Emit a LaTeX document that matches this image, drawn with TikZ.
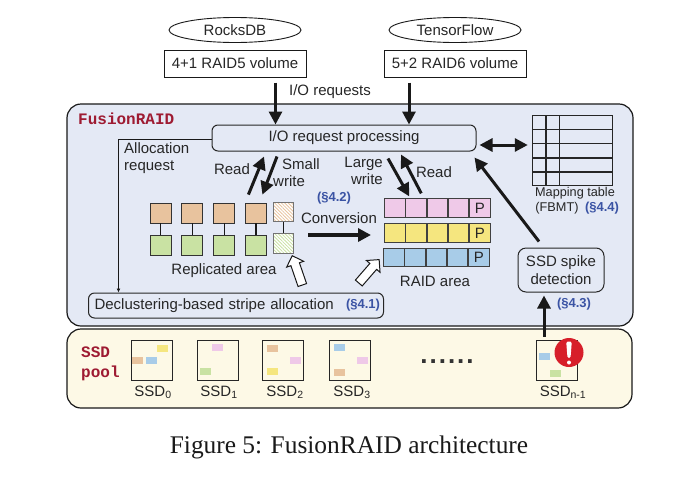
\documentclass[tikz,border=0pt]{standalone}
\usepackage{fontspec}
\setmainfont{Liberation Sans}
\newfontfamily\captionfont{Liberation Serif}
\newfontfamily\codefont{Liberation Mono}
\usetikzlibrary{
  arrows.meta,
  matrix,
  patterns.meta,
  positioning,
  shapes.arrows,
  shapes.geometric,
}
\definecolor{panelblue}{RGB}{228, 233, 245}
\definecolor{poolcream}{RGB}{253, 249, 230}
\definecolor{titlered}{RGB}{158, 27, 50}
\definecolor{sectionblue}{RGB}{58, 83, 164}
\definecolor{alertred}{RGB}{215, 31, 42}
\definecolor{blockorange}{RGB}{232, 195, 158}
\definecolor{blockgreen}{RGB}{201, 226, 163}
\definecolor{blockpink}{RGB}{239, 201, 232}
\definecolor{blockyellow}{RGB}{245, 230, 127}
\definecolor{blockblue}{RGB}{168, 204, 232}
\tikzset{
  textlabel/.style={font=\fontsize{15}{17}\selectfont, inner sep=0, text=black!85},
  smalllabel/.style={font=\fontsize{12.7}{15}\selectfont, inner sep=0, text=black!85},
  sectionref/.style={font=\fontsize{13}{15}\selectfont\bfseries, inner sep=0, text=sectionblue},
  areatitle/.style={font=\fontsize{16}{20}\selectfont\codefont\bfseries, inner sep=0, text=titlered, align=left},
  bigarrow/.style={-{Triangle[length=13,width=13]}, line width=3, black!90},
  roundbox/.style={draw=black!85, line width=1, rounded corners=6, inner sep=0, font=\fontsize{15}{18}\selectfont, text=black!85},
  volumebox/.style={draw=black!90, line width=1, fill=white, minimum width=142, minimum height=27, inner sep=0, font=\fontsize{15}{18}\selectfont, text=black!85},
  appbox/.style={draw=black!90, ellipse, line width=.9, fill=white, minimum width=132, minimum height=25, inner sep=0, font=\fontsize{15}{18}\selectfont, text=black!85},
  repcell/.style={draw=black!80, rectangle, line width=.8, minimum width=21, minimum height=20, inner sep=0},
  hatchcell/.style={draw=black!55, rectangle, line width=.7, minimum width=20.5, minimum height=19.5, inner sep=0, preaction={fill=white}},
  raidcell/.style={draw=black!75, rectangle, line width=.8, minimum width=20.5, minimum height=18.5, inner sep=0, font=\fontsize{15}{18}\selectfont, text=black!85},
  ssdbox/.style={draw=black!85, rectangle, line width=.9, minimum width=41, minimum height=40, inner sep=0},
  ssdblock/.style={rectangle, minimum width=11, minimum height=7, inner sep=0},
  hollowarrow/.style={draw=black!90, fill=white, single arrow, line width=1, inner sep=4, minimum height=31, single arrow head extend=4.5, single arrow tip angle=90},
}

\begin{document}
\begin{tikzpicture}[x=1pt, y=-1pt, node distance=0mm and 0mm]
        \useasboundingbox (0,0) rectangle (692,485);

        % panels
        \node[draw=black!90,line width=1.2,rounded corners=14,fill=panelblue,minimum width=566,minimum height=222,inner sep=0] (panel) at (350,215) {};
        \node[draw=black!90,line width=1.2,rounded corners=14,fill=poolcream,minimum width=565,minimum height=79,inner sep=0] (pool) at (349.5,368.5) {};
        \node[areatitle,anchor=west] (fusion) at (78,119) {FusionRAID};
        \node[areatitle,anchor=west] (poolname) at (81,364) {SSD\\pool};

        % applications and volumes
        \node[appbox] (rocks) at (235,30) {RocksDB};
        \node[appbox] (tensor) at (455,30) {TensorFlow};
        \node[volumebox] (vol5) at (235,63.5) {4+1 RAID5 volume};
        \node[volumebox] (vol6) at (455,63.5) {5+2 RAID6 volume};
        \node[textlabel] (iolabel) at (330,92) {I/O requests};

        % main boxes
        \node[roundbox,minimum width=264,minimum height=26] (iobox) at (344,138) {I/O request processing};
        \node[roundbox,minimum width=295,minimum height=25,anchor=west,text width=283,align=left] (decluster) at (88,305.5) {Declustering-based stripe allocation};
        \node[sectionref] (sec41) at (363,305) {(§4.1)};
        \node[roundbox,rounded corners=8,minimum width=86,minimum height=44,align=center] (spike) at (561,270) {SSD spike\\detection};
        \node[sectionref] (sec43) at (574,304) {(§4.3)};

        % mapping table
        \matrix (fbmt) [matrix of nodes, nodes in empty cells, inner sep=0, at={(572.5,150.5)},
            nodes={draw=black!85,line width=.7,rectangle,inner sep=0,minimum height=13.4},
            column 1/.style={nodes={minimum width=13}},
            column 2/.style={nodes={minimum width=13}},
            column 3/.style={nodes={minimum width=53}}] {
            & & \\
            & & \\
            & & \\
            & & \\
            & & \\
        };
        \node[smalllabel] (maplabel) at (575,193) {Mapping table};
        \node[smalllabel] (fbmtlabel) at (557,208) {(FBMT)};
        \node[sectionref] (sec44) at (602,208) {(§4.4)};

        % replicated area
        \node[repcell,fill=blockorange] (o0) at (160.5,213) {};
        \node[repcell,fill=blockorange,right=10pt of o0] (o1) {};
        \node[repcell,fill=blockorange,right=10pt of o1] (o2) {};
        \node[repcell,fill=blockorange,right=10pt of o2] (o3) {};
        \node[hatchcell,pattern={Lines[angle=-45,distance=2.4pt,line width=.8pt]},pattern color=blockorange] (o4) at (283.5,212) {};
        \node[repcell,fill=blockgreen] (g0) at (160.5,245) {};
        \node[repcell,fill=blockgreen,right=10pt of g0] (g1) {};
        \node[repcell,fill=blockgreen,right=10pt of g1] (g2) {};
        \node[repcell,fill=blockgreen,right=10pt of g2] (g3) {};
        \node[hatchcell,pattern={Lines[angle=-45,distance=2.4pt,line width=.8pt]},pattern color=blockgreen] (g4) at (283.5,243.5) {};
        \draw[black!90,line width=.9] (o0) -- (g0);
        \draw[black!90,line width=.9] (o1) -- (g1);
        \draw[black!90,line width=.9] (o2) -- (g2);
        \draw[black!90,line width=1.3] (o3) -- (g3);
        \draw[black!90,line width=.9] (o4) -- (g4);
        \node[textlabel] (replabel) at (224,271) {Replicated area};

        % RAID area
        \node[raidcell,fill=blockpink,anchor=west] (p0) at (384,208) {};
        \node[raidcell,fill=blockpink,right=of p0] (p1) {};
        \node[raidcell,fill=blockpink,right=of p1] (p2) {};
        \node[raidcell,fill=blockpink,right=of p2] (p3) {};
        \node[raidcell,fill=blockpink,right=of p3] (p4) {P};
        \node[raidcell,fill=blockyellow,anchor=west] (y0) at (384,233) {};
        \node[raidcell,fill=blockyellow,right=of y0] (y1) {};
        \node[raidcell,fill=blockyellow,right=of y1] (y2) {};
        \node[raidcell,fill=blockyellow,right=of y2] (y3) {};
        \node[raidcell,fill=blockyellow,right=of y3] (y4) {P};
        \node[raidcell,fill=blockblue,anchor=west] (b0) at (383,257.5) {};
        \node[raidcell,fill=blockblue,right=of b0] (b1) {};
        \node[raidcell,fill=blockblue,right=of b1] (b2) {};
        \node[raidcell,fill=blockblue,right=of b2] (b3) {};
        \node[raidcell,fill=blockblue,right=of b3] (b4) {P};
        \node[textlabel] (raidlabel) at (435,281) {RAID area};

        % labels in the panel
        \node[textlabel,anchor=west,align=left] (alloclabel) at (124,158) {Allocation\\request};
        \node[textlabel] (readl) at (232,169) {Read};
        \node[textlabel,align=left,anchor=west] (smalll) at (273,173) {\hspace*{9pt}Small\\write};
        \node[textlabel,align=right,anchor=east] (largel) at (383,171) {Large\\write};
        \node[textlabel] (readr) at (434,172) {Read};
        \node[sectionref] (sec42) at (334,198) {(§4.2)};
        \node[textlabel] (convlabel) at (339,218) {Conversion};

        % SSD pool
        \node[ssdbox] (s0) at (151.5,360) {};
        \node[ssdbox] (s1) at (217.5,360) {};
        \node[ssdbox] (s2) at (283,360) {};
        \node[ssdbox] (s3) at (349.5,360) {};
        \node[ssdbox] (sn) at (556.5,360) {};
        \node[textlabel] (s0label) at (153,392) {SSD\textsubscript{0}};
        \node[textlabel] (s1label) at (219,392) {SSD\textsubscript{1}};
        \node[textlabel] (s2label) at (285,392) {SSD\textsubscript{2}};
        \node[textlabel] (s3label) at (352,392) {SSD\textsubscript{3}};
        \node[textlabel] (snlabel) at (563,392) {SSD\textsubscript{n-1}};
        \node[ssdblock,fill=blockyellow] (b00) at (162.5,348.5) {};
        \node[ssdblock,fill=blockorange] (b01) at (137.5,360.5) {};
        \node[ssdblock,fill=blockblue] (b02) at (151.5,360.5) {};
        \node[ssdblock,fill=blockpink] (b10) at (217.5,347.5) {};
        \node[ssdblock,fill=blockgreen] (b11) at (205.5,371.5) {};
        \node[ssdblock,fill=blockorange] (b20) at (272.5,348.5) {};
        \node[ssdblock,fill=blockpink] (b21) at (295,360.5) {};
        \node[ssdblock,fill=blockyellow] (b22) at (272.5,371.5) {};
        \node[ssdblock,fill=blockblue] (b30) at (339.5,347.5) {};
        \node[ssdblock,fill=blockpink] (b31) at (362,360.5) {};
        \node[ssdblock,fill=blockorange] (b32) at (339,372.5) {};
        \node[ssdblock,fill=blockblue] (b40) at (544.5,356.5) {};
        \node[ssdblock,fill=blockgreen] (b41) at (555.5,373.5) {};
        \node[circle,fill=alertred,minimum size=29,inner sep=0] (alert) at (569,352.5) {};
        \fill[white,rounded corners=1.5] ([xshift=-2.8,yshift=11]alert.center) -- ([xshift=2.8,yshift=11]alert.center) -- ([xshift=1.5,yshift=-5.5]alert.center) -- ([xshift=-1.5,yshift=-5.5]alert.center) -- cycle;
        \fill[white] ([yshift=-10]alert.center) circle (2);
        \node[font=\fontsize{26}{26}\selectfont\bfseries,inner sep=0,text=black!80,anchor=base] (dots) at (447,363) {.\kern2pt.\kern2pt.\kern2pt.\kern2pt.\kern2pt.};

        % connectors
        \draw[bigarrow] ([xshift=40.5,yshift=-5]vol5.south) -- ([xshift=-68.5]iobox.north);
        \draw[bigarrow] ([xshift=-46,yshift=-5]vol6.south) -- ([xshift=65]iobox.north);
        \draw[bigarrow] ([xshift=-7.5,yshift=8]o3.north) -- ([xshift=-80,yshift=-5]iobox.south);
        \draw[bigarrow] ([xshift=-67,yshift=-5]iobox.south) -- ([xshift=6.5,yshift=8]o3.north);
        \draw[bigarrow] ([xshift=44,yshift=-7]iobox.south) -- ([xshift=-6.75,yshift=2]p1.north);
        \draw[bigarrow] ([xshift=-16,yshift=5]p2.north) -- ([xshift=57,yshift=-3]iobox.south);
        \draw[black!90,line width=.9,-{Latex[length=4,width=4]}] ([yshift=-1]iobox.west) -| ([xshift=-117.5]decluster.north);
        \draw[bigarrow,{Triangle[length=13,width=13]}-{Triangle[length=13,width=13]}] ([xshift=3,yshift=-7]iobox.east) -- ([xshift=-4,yshift=5.5]fbmt.west);
        \draw[bigarrow] ([xshift=-22,yshift=6]spike.north) -- ([xshift=-2,yshift=-6]iobox.south east);
        \draw[bigarrow] ([xshift=-12.5,yshift=3]sn.north) -- ([xshift=-17,yshift=-3]spike.south);
        \draw[bigarrow,line width=3.5] ([xshift=14,yshift=-23]o4.east) -- ([xshift=-13,yshift=-2]y0.west);
        \node[hollowarrow,rotate=109] (hollowa) at (298,272.5) {};
        \node[hollowarrow,rotate=49] (hollowb) at (367.5,273) {};

        \node[font=\fontsize{25.4}{28}\selectfont\captionfont,inner sep=0,text=black!90] (caption) at (349,447) {Figure 5: FusionRAID architecture};
    \end{tikzpicture}
\end{document}
